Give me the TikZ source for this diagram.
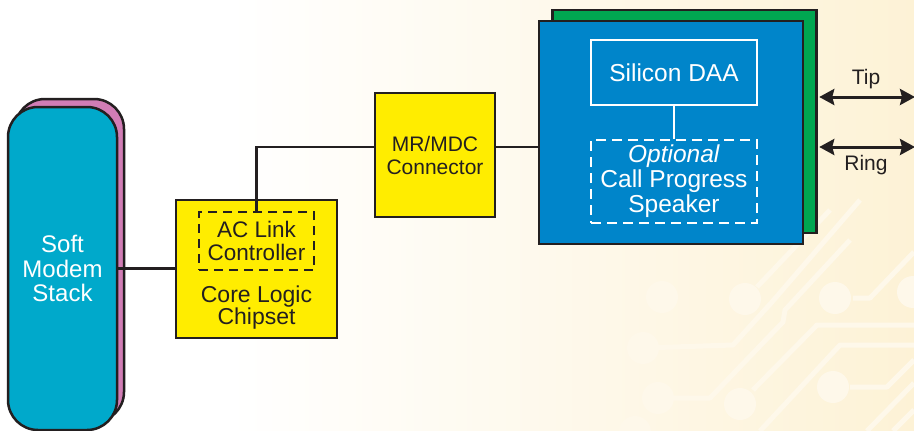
\documentclass[tikz,border=0pt]{standalone}
\usepackage{fontspec}
\setmainfont{Liberation Sans}
\usetikzlibrary{arrows.meta}

\definecolor{modemblue}{RGB}{0,169,203}
\definecolor{modempink}{RGB}{209,125,181}
\definecolor{chipyellow}{RGB}{255,237,0}
\definecolor{daablue}{RGB}{0,133,202}
\definecolor{boardgreen}{RGB}{0,166,81}
\definecolor{inkgray}{RGB}{35,31,32}
\definecolor{cream}{RGB}{253,242,214}
\definecolor{tracecream}{RGB}{254,248,234}

\tikzset{
  txt/.style args={#1/#2}{align=center, text=inkgray, font=\fontsize{#1}{#2}\selectfont},
  txt/.default=21/23,
  modem/.style={draw=inkgray, line width=2.5pt, rounded corners=30pt,
    minimum width=109pt, minimum height=323pt, inner sep=0},
  yellowbox/.style={draw=inkgray, line width=2.5pt, fill=chipyellow, inner sep=0},
  card/.style={draw=inkgray, line width=2.5pt, minimum width=264pt,
    minimum height=223pt, inner sep=0},
  whitebox/.style={draw=white, line width=2pt, minimum width=166pt, inner sep=0},
  wire/.style={draw=inkgray, line width=2.2pt},
  telwire/.style={draw=inkgray, line width=3pt,
    {Stealth[length=15pt,width=16pt,inset=2pt]}-{Stealth[length=15pt,width=16pt,inset=2pt]}},
  trace/.style={draw=tracecream, line width=5pt, line join=round},
}

\begin{document}
\begin{tikzpicture}[x=1pt,y=-1pt]
    \useasboundingbox (0,0) rectangle (914,431);
    \clip (0,0) rectangle (914,431);
    % backdrop
    \fill[white] (0,0) rectangle (914,431);
    \shade[left color=white,right color=cream] (230,0) rectangle (914,431);
    % faint circuit board traces
    \foreach \x/\y in {662/297,745/299,835/298,913/292,643/348,658/398,740/404,833/387,635/432}
        \fill[tracecream] (\x,\y) circle (16);
    \draw[trace] (643,348) -- (733,345) -- (772,302) -- (860,200);
    \draw[trace] (757,287) -- (830,210);
    \draw[trace] (673,398) -- (710,398) -- (783,322) -- (785,310) -- (850,240);
    \draw[trace] (753,390) -- (817,325) -- (914,325);
    \draw[trace] (760,431) -- (840,345) -- (914,345);
    \draw[trace] (850,387) -- (887,387) -- (914,360);
    \draw[trace] (853,298) -- (870,298) -- (914,252);
    \draw[trace] (867,431) -- (914,383);
    \draw[trace] (893,431) -- (914,410);

    % host side
    \node[modem, fill=modempink] (stackback) at (69.5,260.5) {};
    \node[modem, fill=modemblue, txt=24/24.5, text=white] (stack) at (62.5,268.5) {Soft\\Modem\\Stack};

    \node[yellowbox, minimum width=161pt, minimum height=138pt] (chip) at (256.5,269) {};
    \node[draw=inkgray, line width=2.5pt, dash pattern=on 9pt off 6pt, minimum width=115pt,
        minimum height=58pt, inner sep=0, txt=22.5/23.5] (aclink) at (256.5,241) {AC Link\\Controller};
    \node[txt=23/22] (chiptext) at (256.5,308) {Core Logic\\Chipset};

    \node[yellowbox, minimum width=120pt, minimum height=124pt, txt] (mrmdc) at (435,155) {MR/MDC\\Connector};

    % modem card
    \node[card, fill=boardgreen] (board) at (684.5,121.5) {};
    \node[card, fill=daablue] (daa) at (671,132.5) {};
    \node[whitebox, minimum height=65pt, txt=24.5/25, text=white] (silicon) at (674,72.5) {Silicon DAA};
    \node[whitebox, dash pattern=on 10pt off 6pt, minimum height=83pt, txt=24.5/25, text=white]
        (speaker) at (674,181.5) {\textit{Optional}\\Call Progress\\Speaker};

    \draw[wire] (stack.east) -- (stack.east -| chip.west);
    \draw[wire] (aclink.north) |- ([yshift=8pt]mrmdc.west);
    \draw[wire] ([yshift=8pt]mrmdc.east) -- ([yshift=8pt]mrmdc.east -| daa.west);
    \draw[white, line width=2pt] (silicon.south) -- (speaker.north);

    % phone line
    \coordinate (tipend) at (915,97);
    \coordinate (ringend) at (915,147);
    \draw[telwire] ([xshift=1.5pt]board.east |- tipend) -- (tipend);
    \draw[telwire] ([xshift=1.5pt]board.east |- ringend) -- (ringend);
    \node[txt] (tip) at (866,79) {Tip};
    \node[txt] (ring) at (866,165) {Ring};
\end{tikzpicture}
\end{document}
